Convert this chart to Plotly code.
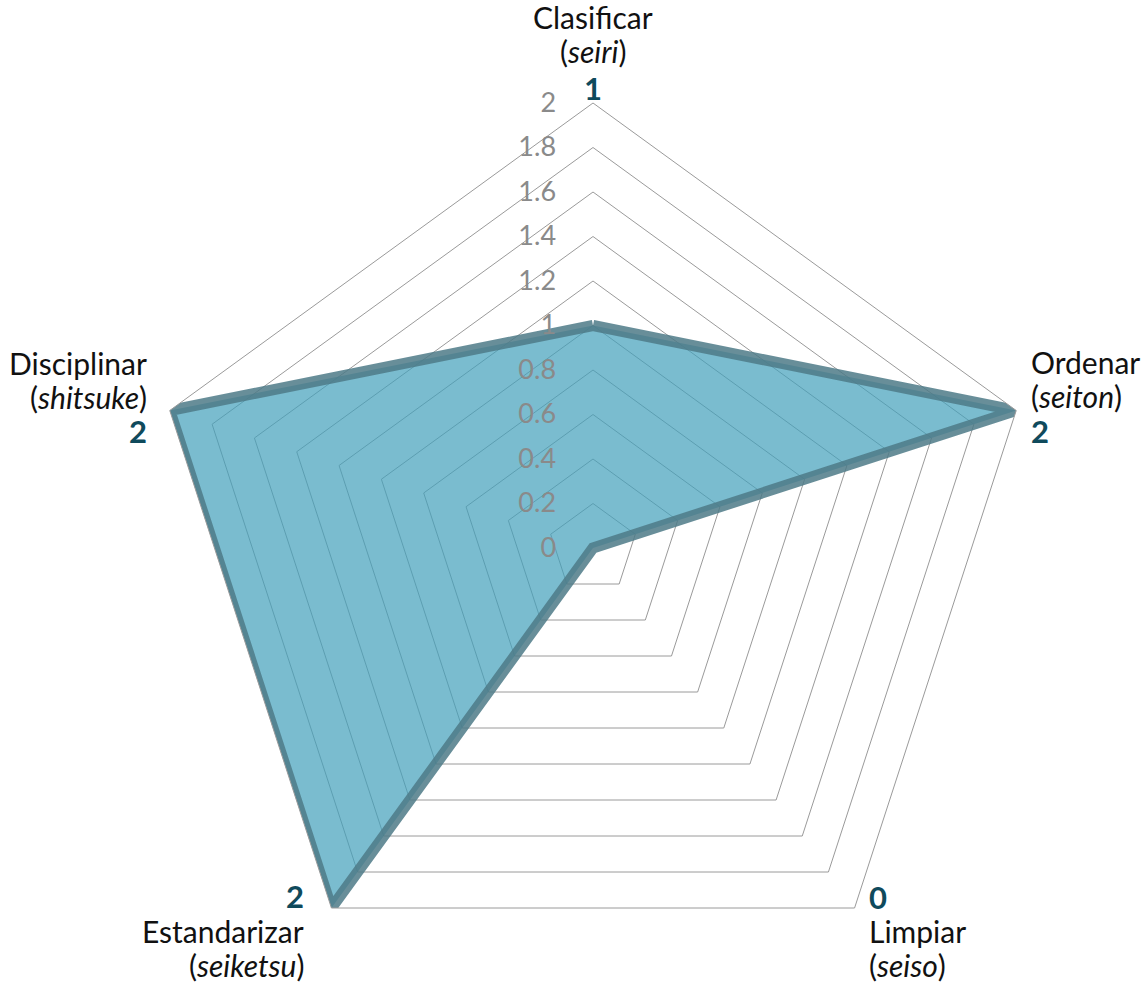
import math
import plotly.graph_objects as go

# ---------------- data ----------------
categories = ["Clasificar", "Ordenar", "Limpiar", "Estandarizar", "Disciplinar"]
japanese = ["seiri", "seiton", "seiso", "seiketsu", "shitsuke"]
values = [1, 2, 0, 2, 2]
radial_tickvals = [0, 0.2, 0.4, 0.6, 0.8, 1, 1.2, 1.4, 1.6, 1.8, 2]
radial_ticktext = ["0", "0.2", "0.4", "0.6", "0.8", "1", "1.2", "1.4", "1.6", "1.8", "2"]
RMAX = 2

# ---------------- geometry / style ----------------
W, H = 1146, 1000
CX, CY, R = 593, 548, 445
FONT = "Lato, 'Open Sans', sans-serif"
NUM_COLOR = "#0f4a5c"
TEXT_COLOR = "#111111"

fig = go.Figure(
    go.Scatterpolar(
        r=values + [values[0]],
        theta=categories + [categories[0]],
        mode="lines",
        fill="toself",
        fillcolor="rgba(65,159,186,0.7)",
        line=dict(color="rgba(78,122,135,0.85)", width=11),
        hoverinfo="skip",
    )
)

# label placement relative to outer vertex:
# (dx, xanchor, number_first, [y offsets of the three line centres])
placement = [
    (0, "center", False, [-86, -52, -15]),
    (14, "left", False, [-48, -14, 21]),
    (13, "left", True, [-11, 23, 57]),
    (-26, "right", True, [-12, 23, 57]),
    (-22, "right", False, [-47, -13, 21]),
]

annotations = []
n = len(categories)
for i, (cat, jp, val) in enumerate(zip(categories, japanese, values)):
    th = math.radians(360 / n * i)
    vx = CX + R * math.sin(th)
    vy = CY - R * math.cos(th)
    dx, xa, num_first, offs = placement[i]
    num_line = (f"<b>{val}</b>", dict(family=FONT, size=31, color=NUM_COLOR))
    name_line = (cat, dict(family=FONT, size=30, color=TEXT_COLOR))
    jp_line = (f"(<i>{jp}</i>)", dict(family=FONT, size=30, color=TEXT_COLOR))
    lines = [num_line, name_line, jp_line] if num_first else [name_line, jp_line, num_line]
    for (txt, fnt), oy in zip(lines, offs):
        py = vy + oy
        annotations.append(
            dict(
                x=(vx + dx) / W,
                y=(H - py) / H,
                xref="paper",
                yref="paper",
                text=txt,
                showarrow=False,
                xanchor=xa,
                yanchor="middle",
                font=fnt,
                borderpad=0,
            )
        )

fig.update_layout(
    width=W,
    height=H,
    margin=dict(l=0, r=0, t=0, b=0),
    paper_bgcolor="white",
    plot_bgcolor="white",
    showlegend=False,
    font=dict(family=FONT, size=27, color=TEXT_COLOR),
    annotations=annotations,
    polar=dict(
        domain=dict(x=[(CX - R) / W, (CX + R) / W], y=[(H - CY - R) / H, (H - CY + R) / H]),
        gridshape="linear",
        bgcolor="rgba(0,0,0,0)",
        angularaxis=dict(
            rotation=90,
            direction="clockwise",
            showgrid=False,
            showticklabels=False,
            ticks="",
            showline=True,
            linecolor="#9a9a9a",
            linewidth=1,
        ),
        radialaxis=dict(
            range=[0, RMAX],
            tickvals=radial_tickvals,
            ticktext=radial_ticktext,
            angle=90,
            tickangle=90,
            side="counterclockwise",
            showline=False,
            gridcolor="#9a9a9a",
            gridwidth=1,
            ticks="outside",
            ticklen=27,
            tickcolor="rgba(0,0,0,0)",
            tickfont=dict(family=FONT, size=27, color="#8a8a8a"),
        ),
    ),
)

fig.write_html(
    "out.html",
    post_script="document.body.style.margin='0';document.body.style.overflow='hidden';document.documentElement.style.overflow='hidden';",
)
